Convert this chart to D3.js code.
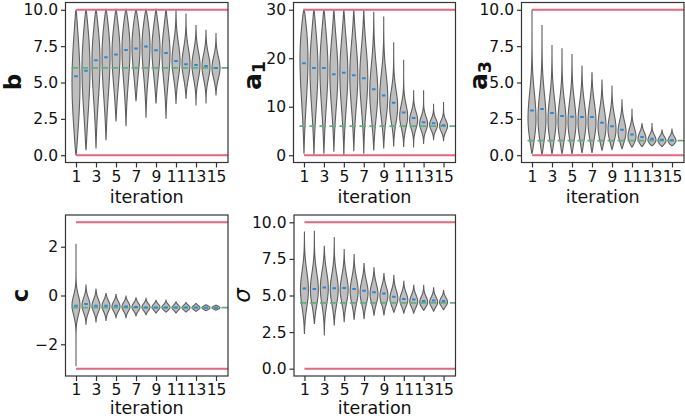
<!DOCTYPE html>
<html><head><meta charset="utf-8">
<script src="https://cdn.jsdelivr.net/npm/d3@7"></script>
<style>body{margin:0;background:#fff}svg{display:block}</style>
</head><body>
<svg id="chart" width="685" height="419"></svg>
<script>
const iterations = [1,2,3,4,5,6,7,8,9,10,11,12,13,14,15];
const xTicks = [1,3,5,7,9,11,13,15];

// b
const bMean   = [5.43,5.80,6.53,6.73,6.92,7.24,7.33,7.47,7.21,7.03,6.48,6.26,6.21,6.14,6.00];
const bMin    = [0.00,0.34,0.46,1.03,2.33,1.99,3.72,2.58,3.56,2.51,3.52,3.88,3.42,3.56,4.11];
const bMax    = [10,10,10,10,10,10,10,10,10,10,10,9.75,8.95,8.63,8.40];
const bPeak   = [5.0,6.0,6.5,6.8,7.0,7.3,7.5,7.5,7.3,7.0,6.5,6.3,6.2,6.1,6.0];
const bSpread = [4.0,3.5,3.0,3.0,2.5,2.5,2.2,2.2,2.0,2.0,1.3,1.1,1.0,0.9,0.8];
// a1
const a1Mean   = [18.97,18.0,18.0,16.7,17.0,16.5,15.9,13.6,12.3,10.8,8.8,7.7,6.8,6.6,6.2];
const a1Min    = [0.3,0.1,0.3,0.7,0.0,0.8,0.3,1.0,1.4,1.8,1.7,1.6,2.3,3.1,2.9];
const a1Max    = [30,30,30,30,30,30,30,29.6,28.6,23.3,19.7,13.4,13.4,10.6,11.0];
const a1Peak   = [20,18,18,17,17,16.5,16,13,12,10,8,7.2,6.5,6.3,6.0];
const a1Spread = [10,9,9,8,8,7.5,7,6,5,3.5,2.5,1.8,1.5,1.2,1.2];
// a3
const a3Mean   = [3.08,3.17,2.90,2.69,2.65,2.63,2.63,2.24,2.00,1.76,1.42,1.26,1.14,1.07,1.03];
const a3Min    = [0.10,0.05,0.10,0.10,0.10,0.15,0.17,0.35,0.40,0.45,0.55,0.60,0.65,0.60,0.65];
const a3Max    = [10.0,8.95,7.58,7.35,6.96,6.16,5.71,5.20,4.79,3.84,3.20,2.21,2.21,1.76,1.83];
const a3Peak   = [2.5,2.5,2.4,2.3,2.3,2.3,2.3,2.0,1.8,1.6,1.3,1.15,1.05,1.0,1.0];
const a3Spread = [1.8,1.8,1.6,1.5,1.5,1.4,1.4,1.2,1.0,0.8,0.6,0.45,0.35,0.3,0.3];
// c
const cMean   = [-0.42,-0.35,-0.42,-0.42,-0.42,-0.45,-0.47,-0.49,-0.49,-0.49,-0.49,-0.49,-0.49,-0.50,-0.50];
const cMin    = [-2.90,-1.20,-1.10,-1.04,-0.90,-0.93,-0.83,-0.79,-0.72,-0.68,-0.72,-0.68,-0.65,-0.62,-0.60];
const cMax    = [2.12,0.45,0.28,0.10,0.06,-0.04,-0.10,-0.13,-0.20,-0.20,-0.26,-0.28,-0.32,-0.38,-0.40];
const cPeak   = [-0.40,-0.40,-0.42,-0.43,-0.45,-0.46,-0.47,-0.48,-0.48,-0.49,-0.50,-0.50,-0.50,-0.50,-0.50];
const cSpread = [0.40,0.32,0.28,0.25,0.22,0.20,0.18,0.16,0.14,0.13,0.12,0.11,0.10,0.09,0.08];
// sigma
const sMean   = [5.47,5.44,5.54,5.49,5.51,5.44,5.33,5.22,5.13,4.92,4.76,4.72,4.62,4.65,4.62];
const sMin    = [2.37,3.05,2.26,2.96,3.17,3.35,3.39,3.62,3.64,3.85,3.80,3.80,3.99,3.92,4.03];
const sMax    = [9.38,9.43,8.40,9.00,8.18,7.84,7.22,6.92,6.54,6.42,6.01,5.74,5.74,5.56,5.38];
const sPeak   = [5.4,5.4,5.5,5.4,5.4,5.3,5.2,5.1,5.0,4.8,4.7,4.6,4.55,4.55,4.55];
const sSpread = [1.3,1.2,1.2,1.1,1.0,0.95,0.85,0.75,0.65,0.6,0.5,0.45,0.4,0.38,0.33];

const trueValues = {b:6, a1:6, a3:1, c:-0.5, sigma:4.5};
const bounds = {b:[0,10], a1:[0,30], a3:[0,10], c:[-3,3], sigma:[0,10]};

const panels = [
  {key:'b', mean:bMean, min:bMin, max:bMax, peak:bPeak, spread:bSpread,
   box:[65.5,228,2.5,162.5], ydom:[-0.5,10.5], yticks:[0,2.5,5,7.5,10], fmt:d3.format('.1f'),
   label:['b',null], style:'bold', lab:{off:45, y:82, size:23}},
  {key:'a1', mean:a1Mean, min:a1Min, max:a1Max, peak:a1Peak, spread:a1Spread,
   box:[293.5,455.5,2.5,162.5], ydom:[-1.5,31.5], yticks:[0,10,20,30], fmt:d3.format('d'),
   label:['a','1'], style:'bold', lab:{off:33, y:75.5, size:25}},
  {key:'a3', mean:a3Mean, min:a3Min, max:a3Max, peak:a3Peak, spread:a3Spread,
   box:[521.5,684,2.5,162.5], ydom:[-0.5,10.5], yticks:[0,2.5,5,7.5,10], fmt:d3.format('.1f'),
   label:['a','3'], style:'bold', lab:{off:34.5, y:75.5, size:25}},
  {key:'c', mean:cMean, min:cMin, max:cMax, peak:cPeak, spread:cSpread,
   box:[65.5,228,215,376], ydom:[-3.3,3.3], yticks:[-2,0,2], fmt:v=>d3.format('d')(v).replace('-','\u2212'),
   label:['c',null], style:'bold', lab:{off:38, y:295.5, size:23}},
  {key:'sigma', mean:sMean, min:sMin, max:sMax, peak:sPeak, spread:sSpread,
   box:[294,455.5,215,376], ydom:[-0.5,10.5], yticks:[0,2.5,5,7.5,10], fmt:d3.format('.1f'),
   label:['\u03c3',null], style:'italic', lab:{off:44, y:295.5, size:23}}
];

const svg = d3.select('#chart');
const FONT = 'DejaVu Sans, sans-serif';
const violinWidth = 0.8;

panels.forEach(p => {
  const [x0,x1,y0,y1] = p.box;
  const x = d3.scaleLinear().domain([-0.05,16.2]).range([x0,x1]);
  const y = d3.scaleLinear().domain(p.ydom).range([y1,y0]);
  const g = svg.append('g');
  const clipId = 'clip-'+p.key;
  svg.append('clipPath').attr('id',clipId).append('rect')
    .attr('x',x0).attr('y',y0).attr('width',x1-x0).attr('height',y1-y0);
  const plot = g.append('g').attr('clip-path','url(#'+clipId+')');

  // violins
  iterations.forEach((it,i) => {
    const lo=p.min[i], hi=p.max[i], pk=p.peak[i], s=p.spread[i];
    const n=80, pts=[];
    for(let k=0;k<=n;k++){
      const v = lo + (hi-lo)*k/n;
      const t = v<pk ? (pk-v)/Math.max(pk-lo,1e-9) : (v-pk)/Math.max(hi-pk,1e-9);
      const taper = Math.pow(Math.max(0,1-t*t),0.6);
      const gauss = Math.exp(-0.5*Math.pow((v-pk)/s,2));
      pts.push({v, w:gauss*taper});
    }
    const wmax = d3.max(pts,d=>d.w);
    const half = violinWidth/2;
    const area = d3.area()
      .y(d=>y(d.v))
      .x0(d=>x(it - half*d.w/wmax))
      .x1(d=>x(it + half*d.w/wmax))
      .curve(d3.curveBasis);
    plot.append('path').datum(pts).attr('d',area)
      .attr('fill','#bebebe').attr('stroke','#5e5e5e').attr('stroke-width',1.1);
  });

  // bounds (red)
  bounds[p.key].forEach(bv => {
    plot.append('line').attr('x1',x(1)).attr('x2',x1+2)
      .attr('y1',y(bv)).attr('y2',y(bv))
      .attr('stroke','#e8637d').attr('stroke-width',2);
  });
  // true value (green dashed)
  const tv = trueValues[p.key];
  plot.append('line').attr('x1',x(0.55)).attr('x2',x1+2)
    .attr('y1',y(tv)).attr('y2',y(tv))
    .attr('stroke','#62ad80').attr('stroke-width',1.8)
    .attr('stroke-dasharray','6.5,3.5');

  // means (blue)
  iterations.forEach((it,i) => {
    plot.append('line').attr('x1',x(it)-1.8).attr('x2',x(it)+1.8)
      .attr('y1',y(p.mean[i])).attr('y2',y(p.mean[i]))
      .attr('stroke','#2f86d3').attr('stroke-width',2);
  });

  // axes
  const yAxis = d3.axisLeft(y).tickValues(p.yticks).tickFormat(p.fmt).tickSize(4.5).tickPadding(3);
  const xAxis = d3.axisBottom(x).tickValues(xTicks).tickFormat(d3.format('d')).tickSize(5).tickPadding(3);
  const ya = g.append('g').attr('transform',`translate(${x0},0)`).call(yAxis);
  const xa = g.append('g').attr('transform',`translate(0,${y1})`).call(xAxis);
  [ya,xa].forEach(a=>{
    a.select('.domain').remove();
    a.selectAll('line').attr('stroke','#333').attr('stroke-width',1.2);
    a.selectAll('text').attr('font-family',FONT).attr('font-size',15.5).attr('fill','#111');
  });
  // frame
  g.append('rect').attr('x',x0).attr('y',y0).attr('width',x1-x0).attr('height',y1-y0)
    .attr('fill','none').attr('stroke','#333').attr('stroke-width',1.2);

  // x label
  g.append('text').attr('x',(x0+x1)/2).attr('y',Math.min(y1+40,414))
    .attr('text-anchor','middle').attr('font-family',FONT).attr('font-size',17.5).attr('fill','#111')
    .text('iteration');
  // y label
  const lx = x0-p.lab.off, ly=p.lab.y;
  const t = g.append('text').attr('transform',`translate(${lx},${ly}) rotate(-90)`)
    .attr('text-anchor','middle').attr('font-family',FONT).attr('font-size',p.lab.size).attr('fill','#111')
    .attr('font-weight', p.style==='bold'?'bold':'normal')
    .attr('font-style', p.style==='italic'?'italic':'normal');
  t.append('tspan').text(p.label[0]);
  if(p.label[1]) t.append('tspan').attr('font-size',p.lab.size*0.7).attr('dy',4).text(p.label[1]);
});
</script>
</body></html>
